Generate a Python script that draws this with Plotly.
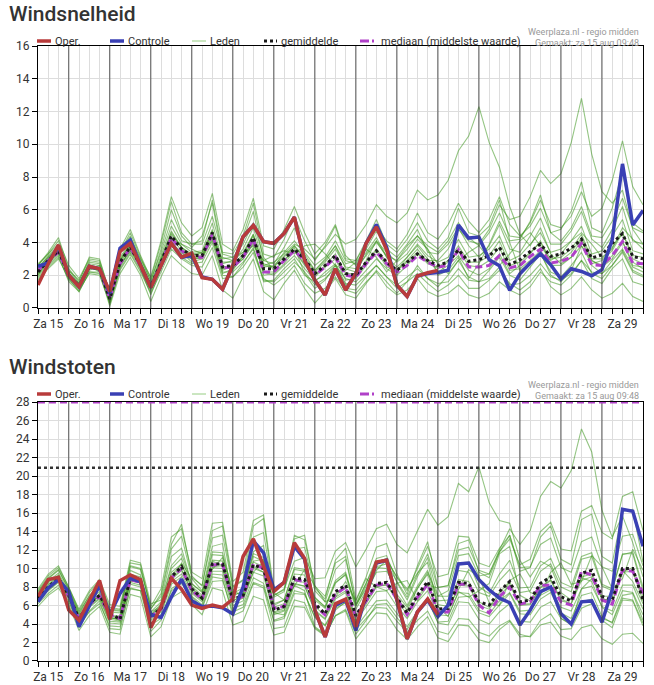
import pandas as pd
import plotly.graph_objects as go
from plotly.subplots import make_subplots

# Tijdas: elke 6 uur, van za 15 aug 06:00 t/m zo 30 aug 00:00
tijden = pd.date_range("2020-08-15 06:00", periods=60, freq="6h")
middernachten = pd.date_range("2020-08-16", periods=14, freq="D")
middagen = pd.date_range("2020-08-15 12:00", periods=15, freq="D")
dagen = ["Za 15", "Zo 16", "Ma 17", "Di 18", "Wo 19", "Do 20", "Vr 21", "Za 22",
         "Zo 23", "Ma 24", "Di 25", "Wo 26", "Do 27", "Vr 28", "Za 29"]

# ---------------- Windsnelheid (Bft) ----------------
oper_wind = [1.4, 2.7, 3.85, 2.0, 1.3, 2.55, 2.4, 1.0, 3.45, 3.95, 2.6, 1.25, 2.6, 3.95, 3.1, 3.35,
             1.85, 1.75, 1.15, 2.6, 4.35, 5.05, 4.05, 3.95, 4.55, 5.55, 2.9, 1.7, 0.8, 2.4, 1.1, 2.1,
             3.95, 4.95, 3.55, 1.4, 0.7, 1.95, 2.15, 2.3]
controle_wind = [2.55, 2.75, 3.8, 2.0, 1.3, 2.55, 2.4, 0.9, 3.65, 4.15, 2.6, 1.25, 2.6, 3.95, 3.1, 3.2,
                 1.9, 1.75, 1.15, 2.6, 4.35, 5.05, 4.05, 3.95, 4.55, 5.55, 2.9, 1.7, 0.8, 2.4, 1.1, 2.1,
                 3.95, 5.1, 3.7, 1.4, 0.7, 1.95, 2.1, 2.17, 2.3, 5.07, 4.27, 4.33, 2.95, 2.58, 1.08, 2.09,
                 2.74, 3.31, 2.64, 1.77, 2.4, 2.23, 1.97, 2.34, 4.17, 8.8, 5.07, 5.95]
gemiddelde_wind = [2.2, 2.9, 3.5, 2.0, 1.35, 2.5, 2.4, 0.55, 2.8, 3.75, 2.6, 1.3, 2.8, 4.4, 3.6, 3.2,
                   3.2, 4.6, 2.5, 2.6, 3.2, 4.3, 2.4, 2.4, 3.0, 3.6, 3.0, 2.1, 2.6, 3.2, 2.1, 2.0,
                   2.8, 3.5, 2.8, 2.3, 2.8, 3.3, 2.9, 2.6, 2.8, 3.55, 2.85, 2.95, 3.2, 3.7, 2.65, 2.95,
                   3.45, 3.9, 3.15, 3.3, 3.65, 4.2, 3.05, 3.25, 3.95, 4.55, 3.15, 3.0]
mediaan_wind = [2.3, 2.9, 3.4, 2.0, 1.3, 2.5, 2.35, 0.6, 2.7, 3.7, 2.55, 1.3, 2.7, 4.3, 3.5, 3.1,
                3.1, 4.5, 2.45, 2.5, 3.1, 4.2, 2.2, 2.2, 2.9, 3.5, 2.9, 2.0, 2.5, 3.1, 2.0, 1.9,
                2.7, 3.4, 2.7, 2.2, 2.6, 3.2, 2.8, 2.5, 2.6, 3.55, 2.5, 2.5, 2.6, 3.2, 2.45, 2.6,
                3.15, 3.6, 2.75, 2.85, 3.1, 3.96, 2.64, 2.6, 3.2, 4.07, 2.74, 2.7]

lid_w01 = [2.4, 3.2, 3.8, 2.1, 1.5, 2.7, 2.6, 0.7, 3.1, 4.0, 2.8, 1.5, 3.2, 5.0, 3.9, 3.4, 3.5, 5.2, 2.8, 2.8,
           3.6, 4.9, 2.7, 2.5, 3.4, 4.1, 3.3, 2.3, 2.9, 3.8, 2.4, 2.2, 3.3, 4.1, 3.1, 2.5, 3.1, 3.9, 3.2, 2.8,
           3.1, 4.2, 3.1, 3.2, 3.6, 4.4, 2.9, 3.2, 3.9, 4.6, 3.4, 3.6, 4.1, 5.0, 3.3, 3.5, 4.4, 5.4, 3.5, 3.3]
lid_w02 = [1.8, 2.5, 3.1, 1.7, 1.1, 2.1, 2.0, 0.3, 2.3, 3.3, 2.2, 0.9, 2.2, 3.6, 3.0, 2.6, 2.5, 3.7, 1.8, 1.9,
           2.5, 3.4, 1.7, 1.6, 2.2, 2.8, 2.2, 1.4, 1.8, 2.4, 1.2, 1.1, 1.9, 2.6, 1.9, 1.4, 1.9, 2.4, 1.8, 1.5,
           1.6, 2.4, 1.7, 1.6, 1.8, 2.5, 1.4, 1.5, 2.0, 2.7, 1.9, 1.7, 2.1, 2.9, 1.8, 1.5, 2.4, 3.0, 1.6, 1.4]
lid_w03 = [2.6, 3.4, 4.3, 2.4, 1.6, 3.1, 3.0, 0.9, 3.6, 4.8, 3.2, 1.8, 3.9, 6.5, 4.6, 3.9, 4.1, 6.6, 3.4, 3.3,
           4.4, 6.4, 3.3, 3.1, 4.2, 5.6, 4.1, 2.9, 3.8, 5.0, 3.0, 2.9, 4.1, 5.4, 3.9, 3.4, 4.2, 5.2, 4.1, 3.6,
           4.3, 6.1, 4.6, 4.4, 5.0, 6.6, 4.1, 4.2, 5.3, 6.9, 4.6, 4.8, 5.9, 7.7, 4.9, 4.6, 6.1, 8.3, 5.2, 4.7]
lid_w04 = [2.0, 2.7, 3.3, 2.2, 1.3, 2.4, 2.6, 0.4, 2.6, 3.5, 2.7, 1.1, 2.6, 4.0, 3.4, 2.8, 3.0, 4.2, 2.1, 2.4,
           3.0, 3.9, 2.6, 2.8, 3.3, 3.9, 3.6, 3.0, 3.7, 4.5, 3.9, 4.2, 5.1, 6.3, 5.6, 5.2, 5.8, 7.2, 6.6, 6.9,
           7.8, 9.6, 10.5, 12.3, 10.1, 8.6, 6.2, 4.5, 3.8, 4.9, 3.3, 2.7, 3.1, 4.2, 2.6, 2.1, 2.6, 3.4, 2.2, 1.9]
lid_w05 = [2.3, 3.0, 3.6, 1.9, 1.4, 2.6, 2.3, 0.6, 2.9, 3.9, 2.5, 1.3, 2.9, 4.6, 3.7, 3.1, 3.0, 4.5, 2.4, 2.5,
           3.0, 4.0, 2.2, 2.0, 2.6, 3.2, 2.4, 1.7, 2.0, 2.6, 1.8, 1.6, 2.3, 3.0, 2.4, 2.0, 2.6, 3.3, 2.9, 2.9,
           3.6, 4.8, 4.1, 3.9, 4.8, 6.3, 5.4, 5.6, 6.8, 8.4, 7.6, 8.2, 10.1, 12.8, 9.4, 7.1, 6.4, 7.2, 4.8, 3.9]
lid_w06 = [2.1, 2.8, 3.4, 1.8, 1.2, 2.3, 2.5, 0.2, 2.5, 3.6, 2.4, 0.8, 2.4, 4.1, 3.2, 3.0, 3.1, 4.3, 2.2, 2.2,
           2.8, 3.6, 1.8, 1.4, 1.9, 2.6, 1.5, 0.9, 1.2, 1.9, 1.1, 0.9, 1.6, 2.2, 1.3, 0.8, 1.1, 1.8, 1.0, 0.7,
           0.9, 1.4, 0.8, 0.6, 0.9, 1.6, 1.1, 0.8, 1.3, 2.2, 1.6, 1.4, 2.0, 2.9, 2.2, 2.1, 2.9, 3.6, 2.5, 2.2]
lid_w07 = [2.5, 3.1, 3.7, 2.3, 1.5, 2.8, 2.7, 0.8, 3.3, 4.3, 3.0, 1.9, 4.1, 6.8, 5.2, 4.4, 4.9, 7.0, 3.9, 3.5,
           4.8, 6.7, 3.8, 3.6, 4.8, 6.2, 4.6, 3.3, 4.0, 5.1, 3.2, 2.6, 3.4, 4.3, 3.1, 2.3, 2.9, 3.6, 2.8, 2.4,
           2.8, 3.5, 2.6, 2.5, 2.9, 3.7, 2.3, 2.4, 2.9, 3.5, 2.6, 2.6, 3.1, 3.8, 2.7, 2.9, 3.5, 4.6, 3.2, 3.1]
lid_w08 = [2.2, 2.8, 3.4, 2.1, 1.4, 2.5, 2.3, 0.5, 2.7, 3.7, 2.7, 1.4, 3.0, 4.2, 3.9, 3.6, 3.3, 4.1, 3.0, 3.1,
           3.4, 3.8, 2.9, 3.2, 3.5, 3.3, 3.8, 3.9, 3.3, 2.6, 2.3, 2.8, 3.6, 3.1, 2.2, 2.9, 3.8, 4.4, 3.6, 2.7,
           2.1, 2.9, 3.4, 3.8, 3.0, 2.6, 3.3, 4.1, 4.6, 3.8, 2.9, 3.3, 4.1, 4.6, 3.9, 3.1, 3.6, 4.9, 4.2, 3.6]
lid_w09 = [1.9, 2.6, 3.2, 1.6, 1.0, 2.2, 2.1, 0.3, 2.4, 3.4, 2.3, 1.0, 2.5, 3.9, 3.1, 2.7, 2.8, 4.0, 2.0, 1.9,
           2.7, 3.7, 1.6, 1.7, 2.4, 3.0, 2.0, 1.6, 2.2, 2.7, 1.5, 1.4, 2.0, 2.6, 1.9, 1.2, 1.6, 2.1, 1.5, 1.0,
           1.4, 2.0, 1.2, 1.2, 1.7, 2.3, 1.5, 1.1, 1.6, 2.4, 1.3, 0.8, 1.2, 1.9, 1.1, 0.6, 0.9, 1.5, 0.7, 0.4]
lid_w10 = [2.4, 3.0, 3.6, 2.0, 1.4, 2.6, 2.4, 0.6, 3.0, 3.9, 2.8, 1.4, 3.0, 4.7, 3.7, 3.2, 3.4, 4.8, 2.7, 2.9,
           3.4, 4.5, 2.5, 2.6, 3.2, 3.8, 3.0, 2.2, 2.8, 3.6, 2.5, 2.4, 3.2, 4.0, 3.2, 2.9, 3.6, 4.4, 3.8, 3.4,
           4.1, 5.2, 4.3, 3.8, 4.6, 5.8, 4.4, 4.3, 5.2, 6.6, 5.1, 4.9, 5.6, 7.1, 5.6, 6.1, 7.8, 10.2, 7.4, 6.3]
lid_w11 = [2.0, 2.9, 3.5, 2.0, 1.3, 2.6, 2.2, 0.4, 2.6, 3.5, 2.5, 1.2, 2.7, 3.8, 3.3, 3.3, 3.4, 4.6, 2.6, 2.3,
           3.2, 4.5, 2.0, 2.1, 2.7, 3.5, 2.6, 1.9, 2.5, 3.0, 1.7, 1.8, 2.6, 3.5, 2.5, 2.3, 3.1, 3.8, 3.0, 2.2,
           2.6, 3.2, 2.3, 2.0, 2.4, 3.3, 2.1, 2.6, 3.3, 4.1, 2.7, 2.9, 3.4, 4.3, 2.9, 2.6, 3.2, 4.1, 2.6, 2.5]
lid_w12 = [2.6, 3.3, 3.9, 2.3, 1.7, 2.9, 2.8, 0.7, 3.4, 4.6, 3.1, 1.6, 3.6, 6.0, 4.4, 3.7, 4.4, 6.4, 3.1, 2.9,
           4.2, 5.9, 2.9, 2.7, 3.7, 4.9, 3.4, 2.6, 3.1, 4.1, 2.9, 2.7, 3.6, 4.7, 3.6, 3.1, 3.9, 4.8, 3.4, 3.3,
           3.9, 4.9, 3.8, 3.1, 3.8, 5.1, 3.6, 3.4, 4.4, 5.5, 3.9, 3.9, 4.7, 5.9, 4.2, 3.7, 4.8, 6.2, 4.1, 3.9]
lid_w13 = [1.7, 2.4, 3.0, 1.8, 1.0, 2.2, 2.2, 0.1, 2.1, 3.1, 2.0, 0.4, 1.9, 3.2, 2.6, 2.1, 2.0, 3.2, 1.1, 0.6,
           1.9, 3.0, 1.0, 0.5, 1.5, 2.3, 1.2, 0.3, 1.0, 1.8, 0.8, 0.6, 1.5, 2.3, 1.6, 0.9, 1.6, 2.6, 1.8, 1.3,
           2.0, 2.9, 1.9, 1.6, 2.3, 3.1, 2.0, 1.7, 2.5, 3.3, 2.2, 1.9, 2.6, 3.4, 2.1, 1.8, 2.6, 3.5, 2.3, 2.0]
lid_w14 = [2.3, 3.1, 3.7, 2.0, 1.5, 2.6, 2.4, 0.6, 2.9, 3.8, 2.6, 1.3, 2.9, 4.5, 3.7, 3.3, 3.2, 4.7, 2.5, 2.6,
           3.3, 4.4, 2.6, 2.5, 3.1, 3.8, 3.1, 2.3, 3.0, 3.8, 2.7, 2.9, 3.9, 4.9, 4.1, 3.6, 4.5, 5.8, 4.6, 4.2,
           5.1, 6.4, 5.3, 4.6, 5.4, 6.8, 5.1, 4.4, 5.0, 6.1, 4.6, 4.1, 4.9, 6.2, 4.4, 4.3, 5.3, 6.7, 4.9, 4.6]
lid_w15 = [2.1, 3.0, 3.5, 1.9, 1.2, 2.4, 2.3, 0.5, 2.8, 3.8, 2.6, 1.2, 2.8, 4.3, 3.5, 3.0, 3.1, 4.7, 2.3, 2.6,
           3.1, 4.2, 2.2, 2.2, 2.9, 3.5, 2.7, 2.0, 2.6, 3.3, 2.1, 2.1, 2.8, 3.6, 2.8, 2.3, 2.8, 3.4, 2.7, 2.5,
           2.9, 3.8, 2.8, 2.8, 3.2, 4.1, 2.6, 2.8, 3.4, 4.0, 3.0, 3.1, 3.6, 4.5, 3.0, 3.0, 3.7, 4.6, 3.0, 2.7]
lid_w16 = [2.7, 3.3, 4.1, 2.6, 1.8, 3.0, 2.9, 1.0, 3.5, 4.4, 2.9, 1.7, 3.4, 5.4, 4.1, 3.9, 3.9, 5.6, 3.3, 3.1,
           3.9, 5.2, 3.1, 2.3, 2.9, 3.7, 2.1, 1.2, 1.7, 2.6, 1.4, 1.9, 2.9, 4.1, 3.4, 2.8, 3.3, 4.2, 3.6, 2.0,
           2.3, 3.1, 1.8, 2.7, 3.9, 5.3, 4.0, 2.3, 2.7, 3.4, 2.0, 1.6, 2.3, 3.8, 2.9, 2.5, 3.0, 4.0, 2.8, 2.4]
leden_wind = [lid_w01, lid_w02, lid_w03, lid_w04, lid_w05, lid_w06, lid_w07, lid_w08,
              lid_w09, lid_w10, lid_w11, lid_w12, lid_w13, lid_w14, lid_w15, lid_w16]

# ---------------- Windstoten (m/s) ----------------
oper_stoot = [7.0, 8.8, 9.05, 5.5, 4.4, 6.6, 8.7, 4.5, 8.7, 9.3, 8.8, 3.6, 5.9, 8.95, 7.75, 6.05,
              5.7, 6.05, 5.8, 6.7, 11.3, 13.2, 10.2, 7.5, 8.5, 12.8, 11.1, 5.5, 2.6, 6.2, 6.7, 3.7,
              7.2, 10.7, 10.9, 6.6, 2.4, 5.3, 6.7, 5.0]
controle_stoot = [6.4, 7.9, 8.8, 7.5, 3.7, 5.9, 8.2, 5.0, 7.3, 8.95, 8.6, 5.0, 4.7, 6.9, 8.85, 6.5,
                  5.9, 5.95, 5.75, 5.1, 8.0, 13.0, 11.7, 7.7, 8.5, 12.4, 11.0, 5.5, 2.6, 6.0, 6.6, 3.3,
                  7.2, 10.6, 10.9, 6.6, 2.4, 5.3, 6.6, 4.8, 6.05, 10.5, 10.6, 8.8, 7.7, 6.8, 6.3, 3.9,
                  5.5, 7.5, 8.0, 5.1, 4.0, 6.4, 6.5, 4.2, 7.7, 16.4, 16.2, 12.4]
gemiddelde_stoot = [6.8, 8.0, 8.95, 7.1, 4.6, 6.2, 7.1, 5.2, 4.5, 8.95, 8.6, 4.8, 5.7, 9.1, 10.2, 7.8,
                    6.8, 10.5, 10.5, 6.6, 7.1, 10.4, 10.0, 5.5, 5.9, 9.0, 8.8, 6.2, 5.1, 7.5, 8.2, 4.9,
                    6.7, 8.4, 8.5, 6.9, 5.2, 7.1, 8.6, 5.6, 5.7, 8.5, 8.4, 6.4, 6.05, 7.5, 8.6, 6.4,
                    6.6, 8.4, 9.1, 6.95, 6.5, 9.5, 9.8, 7.0, 6.6, 10.0, 10.0, 6.6]
mediaan_stoot = [6.7, 7.9, 8.8, 7.0, 4.6, 6.1, 7.0, 5.0, 4.6, 8.8, 8.5, 4.8, 5.6, 9.0, 10.0, 7.6,
                 6.7, 10.4, 10.4, 6.5, 7.0, 10.5, 10.0, 5.7, 5.9, 8.8, 8.6, 6.0, 5.0, 7.2, 8.0, 4.8,
                 6.5, 8.2, 8.4, 6.7, 5.0, 6.9, 8.3, 5.3, 5.3, 8.3, 8.3, 6.05, 5.2, 6.95, 8.0, 6.15,
                 6.4, 8.2, 8.2, 6.4, 6.05, 9.7, 9.3, 6.6, 6.15, 9.85, 9.7, 7.3]
grens_mediaan = 28.0
grens_gemiddelde = 20.9

lid_s01 = [7.2, 8.6, 9.5, 7.5, 5.0, 6.8, 7.8, 5.3, 5.2, 9.8, 9.3, 5.3, 6.4, 10.3, 11.6, 8.4, 7.4, 11.8, 11.7, 7.3,
           7.9, 11.6, 11.2, 6.2, 6.6, 10.1, 9.9, 6.9, 5.8, 8.5, 9.3, 5.6, 7.6, 9.6, 9.7, 7.8, 6.0, 8.1, 9.8, 6.5,
           6.6, 9.8, 9.6, 7.4, 7.0, 8.7, 9.9, 7.4, 7.6, 9.7, 10.5, 8.0, 7.5, 11.0, 11.3, 8.1, 7.6, 11.6, 11.6, 7.6]
lid_s02 = [6.2, 7.3, 8.2, 6.4, 3.9, 5.3, 6.2, 3.8, 3.7, 7.8, 7.6, 3.9, 4.6, 7.6, 8.4, 6.6, 5.7, 8.6, 8.7, 5.3,
           5.8, 8.5, 8.1, 4.3, 4.6, 7.3, 7.2, 4.8, 3.9, 5.9, 6.6, 3.6, 5.1, 6.5, 6.6, 5.2, 3.7, 5.4, 6.7, 4.1,
           3.9, 6.4, 6.3, 4.5, 4.0, 5.3, 6.2, 4.3, 4.2, 5.8, 6.4, 4.6, 3.9, 6.4, 6.7, 4.4, 3.6, 6.6, 6.5, 3.8]
lid_s03 = [7.6, 9.2, 10.1, 8.0, 5.4, 7.4, 8.6, 5.8, 5.6, 10.6, 10.4, 5.6, 7.3, 12.6, 14.8, 9.2, 8.1, 14.1, 14.6, 8.1,
           8.8, 14.6, 15.4, 7.1, 7.7, 13.2, 13.6, 7.9, 6.7, 10.9, 12.2, 6.6, 9.1, 12.3, 12.7, 9.4, 7.2, 10.3, 12.9, 8.0,
           8.1, 12.7, 13.1, 9.6, 9.0, 11.8, 13.6, 9.7, 10.1, 13.4, 14.6, 11.0, 10.4, 15.3, 15.9, 11.3, 10.6, 16.2, 16.4, 10.7]
lid_s04 = [6.6, 7.8, 8.7, 7.3, 4.5, 6.0, 7.2, 4.8, 4.4, 8.6, 8.6, 4.7, 5.5, 8.9, 9.9, 7.5, 6.6, 10.2, 10.3, 7.2,
           7.4, 10.8, 11.0, 7.1, 7.8, 10.8, 11.2, 8.9, 9.0, 11.9, 12.8, 10.2, 12.1, 14.3, 14.8, 12.6, 11.7, 14.0, 16.4, 14.7,
           15.6, 19.2, 18.3, 21.0, 17.1, 15.2, 14.9, 10.9, 9.1, 10.8, 10.2, 7.4, 6.6, 9.0, 8.6, 5.8, 5.0, 7.6, 7.4, 5.0]
lid_s05 = [7.0, 8.3, 9.2, 6.9, 4.7, 6.4, 7.0, 4.9, 4.7, 9.1, 8.4, 5.0, 5.9, 9.6, 10.5, 7.9, 6.6, 10.8, 10.3, 6.6,
           6.9, 10.2, 9.6, 5.2, 5.5, 8.4, 8.1, 5.4, 4.5, 6.7, 7.4, 4.4, 6.2, 8.0, 8.3, 6.8, 5.5, 7.8, 9.6, 7.0,
           7.6, 11.4, 11.6, 9.2, 9.4, 12.0, 14.3, 12.6, 14.1, 17.8, 19.4, 18.7, 20.6, 25.1, 22.6, 16.3, 13.4, 15.7, 12.8, 9.1]
lid_s06 = [6.4, 7.6, 8.5, 6.6, 3.6, 5.4, 6.5, 3.5, 3.4, 7.9, 7.6, 3.2, 4.4, 7.8, 8.6, 6.9, 5.8, 9.1, 8.9, 4.9,
           5.4, 8.4, 7.9, 3.5, 3.7, 6.6, 6.3, 3.6, 2.8, 4.9, 5.4, 2.4, 3.8, 5.2, 5.1, 3.4, 2.3, 3.7, 4.8, 2.5,
           2.1, 3.9, 3.8, 2.3, 2.0, 3.4, 4.3, 2.6, 2.7, 4.4, 5.1, 3.4, 3.5, 5.7, 6.2, 4.6, 4.2, 7.1, 7.3, 4.4]
lid_s07 = [7.4, 8.9, 9.8, 7.8, 5.1, 7.1, 8.2, 5.6, 5.5, 10.2, 9.9, 5.9, 7.8, 13.4, 14.3, 9.6, 8.9, 14.9, 15.0, 8.6,
           9.6, 15.2, 15.8, 7.7, 8.3, 13.6, 13.1, 8.1, 7.0, 10.6, 11.3, 6.1, 7.8, 10.1, 10.0, 7.2, 5.8, 7.9, 9.4, 6.1,
           5.9, 8.8, 8.6, 6.4, 5.8, 7.4, 8.6, 6.0, 6.1, 7.9, 8.7, 6.5, 6.2, 8.7, 9.1, 6.7, 6.5, 9.6, 10.1, 7.0]
lid_s08 = [6.9, 8.0, 8.8, 7.4, 4.9, 6.0, 7.3, 4.7, 4.4, 9.0, 8.9, 5.3, 5.9, 8.7, 10.6, 8.9, 7.6, 9.9, 11.2, 7.8,
           6.8, 9.6, 10.8, 7.4, 6.6, 8.1, 9.9, 8.1, 6.4, 6.9, 8.6, 6.5, 8.9, 8.0, 7.6, 8.4, 8.7, 6.5, 8.2, 7.9,
           5.8, 7.7, 9.9, 9.1, 6.3, 6.0, 8.7, 9.4, 7.4, 7.1, 9.6, 10.6, 8.3, 8.6, 11.4, 10.2, 7.8, 8.9, 12.1, 9.8]
lid_s09 = [6.5, 7.8, 8.7, 6.8, 4.2, 5.8, 6.7, 4.1, 4.0, 8.3, 8.0, 4.1, 5.0, 8.3, 9.1, 7.0, 6.1, 9.4, 9.3, 5.7,
           6.1, 9.0, 8.4, 4.4, 4.8, 7.6, 7.3, 4.7, 3.8, 5.7, 6.3, 3.4, 4.6, 5.8, 5.7, 4.3, 3.1, 4.4, 5.4, 3.2,
           2.9, 4.6, 4.5, 3.1, 2.7, 3.8, 4.4, 2.9, 2.6, 3.9, 4.2, 2.7, 2.3, 3.6, 3.9, 2.4, 1.8, 2.9, 3.0, 1.9]
lid_s10 = [7.1, 8.5, 9.3, 7.2, 4.8, 6.5, 7.5, 4.9, 4.9, 9.4, 9.1, 5.0, 6.2, 10.0, 11.1, 8.1, 7.1, 11.5, 11.4, 7.0,
           7.6, 11.3, 10.8, 6.0, 6.6, 9.9, 9.7, 6.8, 5.9, 8.7, 9.6, 5.9, 8.1, 10.2, 10.5, 8.6, 6.9, 9.4, 11.6, 7.9,
           8.2, 12.0, 12.3, 9.8, 9.4, 11.8, 13.2, 10.4, 11.0, 14.0, 15.0, 12.1, 11.9, 16.2, 16.8, 13.9, 13.2, 17.8, 18.3, 14.1]
lid_s11 = [6.7, 7.9, 8.9, 7.0, 4.5, 6.1, 7.0, 4.5, 4.3, 8.7, 8.4, 4.6, 5.5, 8.8, 9.8, 7.6, 6.6, 10.1, 10.0, 6.3,
           6.8, 10.0, 9.6, 5.3, 5.7, 8.7, 8.5, 5.9, 4.9, 7.2, 8.0, 4.7, 6.4, 8.1, 8.2, 6.6, 5.0, 6.9, 8.3, 5.4,
           5.3, 8.2, 8.1, 6.0, 5.6, 7.1, 8.2, 6.1, 6.2, 8.0, 8.8, 6.7, 6.2, 9.1, 9.4, 6.8, 6.3, 9.6, 9.7, 6.5]
lid_s12 = [7.5, 9.0, 9.9, 7.7, 5.3, 7.0, 8.1, 5.5, 5.4, 10.3, 10.0, 5.7, 7.0, 12.1, 13.5, 9.0, 8.2, 13.3, 13.6, 8.0,
           8.7, 13.4, 13.9, 6.9, 7.5, 12.1, 12.3, 7.6, 6.4, 9.9, 11.0, 6.2, 8.4, 11.1, 11.4, 8.5, 6.6, 9.1, 11.2, 7.0,
           7.0, 10.6, 10.7, 8.0, 7.3, 9.4, 10.9, 7.9, 8.0, 10.3, 11.1, 8.5, 8.0, 11.3, 11.7, 8.3, 7.8, 11.5, 11.8, 8.0]
lid_s13 = [5.9, 7.1, 7.9, 6.1, 3.3, 4.9, 5.9, 3.1, 2.9, 7.2, 6.9, 2.6, 3.7, 6.8, 7.5, 6.1, 5.0, 7.9, 7.6, 3.9,
           4.3, 7.0, 6.6, 2.8, 3.1, 5.9, 5.8, 3.5, 2.7, 4.9, 5.6, 2.9, 4.4, 6.1, 6.2, 4.7, 3.4, 5.2, 6.6, 4.2,
           4.3, 6.9, 7.0, 5.2, 4.8, 6.1, 7.3, 5.1, 5.0, 6.7, 7.4, 5.2, 4.6, 7.1, 7.4, 4.8, 4.1, 6.8, 6.6, 4.1]
lid_s14 = [7.0, 8.2, 9.1, 7.1, 4.6, 6.2, 7.1, 4.6, 4.6, 9.0, 8.7, 4.8, 5.8, 9.3, 10.4, 7.9, 6.9, 10.9, 10.8, 6.8,
           7.2, 10.7, 10.2, 5.8, 6.2, 9.4, 9.3, 6.6, 5.7, 8.4, 9.4, 6.0, 8.4, 10.7, 11.1, 9.0, 7.6, 10.1, 12.4, 9.1,
           9.4, 13.5, 13.4, 10.6, 10.2, 12.2, 13.6, 10.1, 10.2, 12.6, 13.3, 10.1, 9.6, 12.9, 13.4, 10.2, 9.7, 13.5, 13.7, 10.3]
lid_s15 = [6.6, 7.7, 8.6, 6.8, 4.4, 5.9, 6.8, 4.3, 4.2, 8.5, 8.2, 4.4, 5.3, 8.6, 9.4, 7.3, 6.4, 9.7, 9.7, 6.0,
           6.5, 9.6, 9.2, 5.0, 5.4, 8.3, 8.1, 5.5, 4.6, 6.9, 7.6, 4.3, 5.9, 7.5, 7.6, 5.9, 4.6, 6.4, 7.6, 5.0,
           4.9, 7.4, 7.3, 5.5, 5.1, 6.5, 7.4, 5.4, 5.5, 7.1, 7.7, 5.8, 5.4, 7.8, 8.1, 5.9, 5.4, 8.2, 8.2, 5.6]
lid_s16 = [7.8, 9.4, 10.3, 7.9, 5.6, 7.6, 8.8, 6.1, 5.9, 10.9, 10.6, 6.2, 6.6, 11.3, 12.2, 8.3, 7.5, 12.4, 12.7, 6.4,
           7.3, 11.8, 12.5, 5.2, 5.0, 8.2, 7.6, 3.7, 2.9, 5.5, 6.4, 4.8, 7.0, 9.8, 10.9, 9.1, 7.8, 9.5, 10.7, 5.9,
           4.8, 7.5, 6.9, 7.6, 8.4, 11.6, 12.4, 7.1, 6.5, 8.3, 7.9, 4.6, 4.0, 7.8, 8.9, 7.0, 7.0, 9.8, 8.6, 6.2]
leden_stoot = [lid_s01, lid_s02, lid_s03, lid_s04, lid_s05, lid_s06, lid_s07, lid_s08,
               lid_s09, lid_s10, lid_s11, lid_s12, lid_s13, lid_s14, lid_s15, lid_s16]

ROOD = "#b83b3b"
BLAUW = "#3a40b4"
GROEN = "rgba(60,150,30,0.55)"
PAARS = "#b040c8"
ZWART = "#1a1a1a"
FONT = "Roboto"
STREEP = "7px,4px"

fig = make_subplots(rows=2, cols=1)


def teken(rij, leden, gemiddelde, mediaan, controle, oper):
    for lid in leden:
        fig.add_trace(go.Scatter(x=tijden, y=lid, mode="lines", line=dict(color=GROEN, width=1.1)),
                      row=rij, col=1)
    fig.add_trace(go.Scatter(x=tijden, y=mediaan, mode="lines",
                             line=dict(color=PAARS, width=3, dash=STREEP)), row=rij, col=1)
    fig.add_trace(go.Scatter(x=tijden, y=gemiddelde, mode="lines",
                             line=dict(color=ZWART, width=3, dash="dot")), row=rij, col=1)
    fig.add_trace(go.Scatter(x=tijden, y=controle, mode="lines",
                             line=dict(color=BLAUW, width=3.5)), row=rij, col=1)
    fig.add_trace(go.Scatter(x=tijden[:len(oper)], y=oper, mode="lines",
                             line=dict(color=ROOD, width=3.5)), row=rij, col=1)
    for t in middernachten:
        fig.add_vline(x=t, line=dict(color="rgba(60,60,60,0.85)", width=1), layer="above",
                      row=rij, col=1)


teken(1, leden_wind, gemiddelde_wind, mediaan_wind, controle_wind, oper_wind)
teken(2, leden_stoot, gemiddelde_stoot, mediaan_stoot, controle_stoot, oper_stoot)

fig.add_hline(y=grens_gemiddelde, line=dict(color="#333333", width=2.5, dash="dot"), row=2, col=1)
fig.add_hline(y=grens_mediaan, line=dict(color=PAARS, width=3, dash=STREEP), row=2, col=1)

as_x = dict(range=[tijden[0], tijden[-1]], tickmode="array", tickvals=middagen, ticktext=dagen,
            ticks="outside", ticklen=5, tickcolor="#000", showgrid=True, gridcolor="#dddddd",
            showline=True, linecolor="#000", linewidth=1, mirror=True,
            tickfont=dict(family=FONT, size=12, color="#333"),
            minor=dict(tickmode="linear", tick0="2020-08-15 00:00", dtick=6 * 3600 * 1000,
                       ticks="outside", ticklen=5, tickcolor="#000", showgrid=True, gridcolor="#dddddd"))
as_y = dict(ticks="outside", ticklen=5, tickcolor="#000", dtick=2, showgrid=True, gridcolor="#dddddd",
            showline=True, linecolor="#000", linewidth=1, mirror=True, zeroline=False,
            tickfont=dict(family=FONT, size=12, color="#333"))

fig.update_layout(
    width=654, height=685,
    margin=dict(l=38, r=11, t=46, b=24, autoexpand=False),
    paper_bgcolor="white", plot_bgcolor="white",
    xaxis=dict(as_x), xaxis2=dict(as_x),
    yaxis=dict(as_y, range=[0, 16], domain=[0.574, 1]),
    yaxis2=dict(as_y, range=[0, 28], domain=[0, 0.421]),
    showlegend=False,
)


def px_x(px):
    return (px - 38) / 605


def px_y(py):
    return (661 - py) / 615


# legenda's, handmatig getekend zoals in het origineel
legenda = [("Oper.", 37, 51, dict(color=ROOD, width=3.5)),
           ("Controle", 110, 124, dict(color=BLAUW, width=3.5)),
           ("Leden", 192, 206, dict(color="rgb(150,205,130)", width=1)),
           ("gemiddelde", 264, 277, dict(color=ZWART, width=3, dash="dot")),
           ("mediaan (middelste waarde)", 360, 377, dict(color=PAARS, width=3, dash="9px,3px,2px,3px"))]

for titel, y_titel, y_leg, y_bron in [("Windsnelheid", 14, 41, 32), ("Windstoten", 367, 394, 385)]:
    fig.add_annotation(text=titel, xref="paper", yref="paper", x=px_x(7), y=px_y(y_titel),
                       xanchor="left", yanchor="middle", showarrow=False,
                       font=dict(family=FONT, size=21, color="#333", weight=500))
    for tekst, x0, x1, lijn in legenda:
        fig.add_shape(type="line", xref="paper", yref="paper", x0=px_x(x0), x1=px_x(x1),
                      y0=px_y(y_leg), y1=px_y(y_leg), line=lijn)
        fig.add_annotation(text=tekst, xref="paper", yref="paper", x=px_x(x1 + 2), y=px_y(y_leg),
                           xanchor="left", yanchor="middle", showarrow=False,
                           font=dict(family=FONT, size=11, color="#333"))
    fig.add_annotation(text="Weerplaza.nl - regio midden", xref="paper", yref="paper", x=px_x(641),
                       y=px_y(y_bron), xanchor="right", yanchor="middle", showarrow=False,
                       font=dict(family=FONT, size=9, color="#999"))
    fig.add_annotation(text="Gemaakt: za 15 aug 09:48", xref="paper", yref="paper", x=px_x(641),
                       y=px_y(y_bron + 11), xanchor="right", yanchor="middle", showarrow=False,
                       font=dict(family=FONT, size=9, color="#999"))

# geen witrand rond de grafiek in de pagina, en geen knoppenbalk
fig.write_html("out.html", config={"displayModeBar": False},
               post_script="document.body.style.margin = '0';")
